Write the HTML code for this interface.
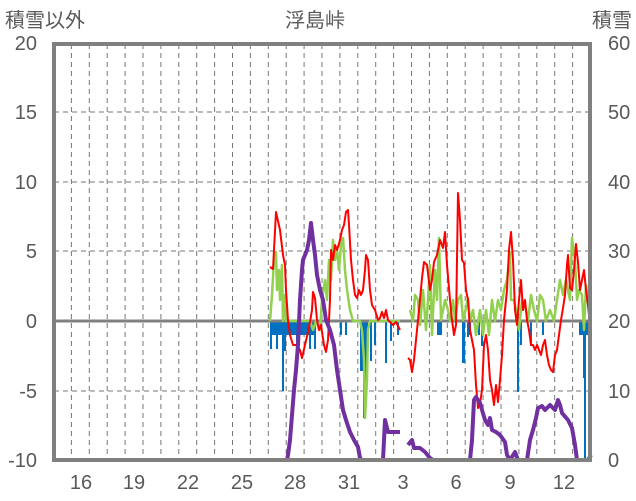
<!DOCTYPE html>
<html><head><meta charset="utf-8"><style>
html,body{margin:0;padding:0;background:#fff;}
svg{display:block;font-family:"Liberation Sans","Noto Sans CJK JP",sans-serif;}
</style></head><body>
<svg width="636" height="501" viewBox="0 0 636 501" xmlns="http://www.w3.org/2000/svg">
<rect width="636" height="501" fill="#fff"/>
<g stroke="#777" stroke-width="1" stroke-dasharray="5,4" fill="none">
<line x1="54" y1="112" x2="590" y2="112"/><line x1="54" y1="182" x2="590" y2="182"/><line x1="54" y1="251" x2="590" y2="251"/><line x1="54" y1="391" x2="590" y2="391"/>
<path d="M71.4 44V459M89.3 44V459M107.2 44V459M125.1 44V459M143 44V459M160.9 44V459M178.8 44V459M196.7 44V459M214.6 44V459M232.5 44V459M250.4 44V459M268.3 44V459M286.2 44V459M304.1 44V459M322 44V459M339.9 44V459M357.8 44V459M375.7 44V459M393.6 44V459M411.5 44V459M429.4 44V459M447.3 44V459M465.2 44V459M483.1 44V459M501 44V459M518.9 44V459M536.8 44V459M554.7 44V459M572.6 44V459"/>
</g>
<g fill="#0070c0">
<rect x="270" y="321" width="16" height="14"/><rect x="270" y="321" width="2" height="28"/><rect x="276" y="321" width="2" height="28"/><rect x="282" y="321" width="2" height="70"/><rect x="284" y="321" width="2" height="30"/><rect x="286" y="321" width="30" height="14"/><rect x="296" y="321" width="2" height="28"/><rect x="309" y="321" width="2" height="28"/><rect x="314" y="321" width="2" height="28"/><rect x="340" y="321" width="2" height="14"/><rect x="345" y="321" width="2" height="14"/>
<rect x="360" y="321" width="3" height="50"/><rect x="363" y="321" width="3" height="97"/><rect x="366" y="321" width="2" height="57"/><rect x="370" y="321" width="2" height="40"/><rect x="374" y="321" width="2" height="24"/><rect x="385" y="321" width="2" height="42"/><rect x="390" y="321" width="2" height="20"/><rect x="397" y="321" width="2" height="14"/>
<rect x="437" y="321" width="5" height="14"/><rect x="462" y="321" width="3" height="42"/><rect x="467" y="321" width="2" height="16"/><rect x="469" y="321" width="2" height="14"/><rect x="478" y="321" width="2" height="14"/><rect x="481" y="321" width="2" height="25"/><rect x="517" y="321" width="2" height="71"/><rect x="520" y="321" width="2" height="24"/><rect x="530" y="321" width="2" height="25"/><rect x="542" y="321" width="2" height="14"/>
<rect x="579" y="321" width="10" height="14"/><rect x="583" y="321" width="3" height="57"/><rect x="584" y="321" width="2" height="139"/>
</g>
<line x1="54" y1="321" x2="590" y2="321" stroke="#808080" stroke-width="3"/>
<g fill="none" stroke-linejoin="round">
<polyline stroke="#92d050" stroke-width="2.5" points="270,321 272,295 274,260 276,252 277,290 279,270 280,300 282,265 283,321 285,295 286,321 290,321 295,321 300,321 305,321 310,321 313,330 316,321 320,330 322,300 325,280 327,300 329,260 331,280 333,240 335,260 337,250 339,270 341,245 343,238 345,270 347,290 350,310 353,321 356,321 360,321 362,330 364,360 365,418 367,380 368,330 370,321 375,321 380,321 390,321 400,321"/>
<polyline stroke="#92d050" stroke-width="2.5" points="410,310 413,321 415,295 418,300 420,325 423,290 426,330 428,300 430,265 432,335 435,270 437,300 439,238 441,320 445,300 448,310 450,321 453,300 455,320 458,300 461,295 463,320 466,308 468,298 470,321 473,310 476,335 480,310 483,335 486,310 489,335 492,300 495,321 498,300 501,310 504,290 507,280 510,252 511,300 514,300 516,310 519,330 522,300 525,305 528,321 531,295 534,310 537,321 540,295 543,300 546,321 550,310 554,321 557,300 560,280 563,295 566,280 570,300 572,238 575,260 577,300 579,290 582,295 584,330 586,285 588,300 590,321"/>
<polyline stroke="#ff0000" stroke-width="2" points="270,267 273,269 276,212 280,230 283,255 285,265 286,290 288,320 290,335 293,345 296,345 300,350 302,358 305,345 308,332 310,322 312,310 313,292 315,298 317,320 319,330 321,325 324,345 326,352 328,340 330,300 331,250 333,260 335,245 337,250 340,240 342,230 344,225 346,212 348,210 349,225 351,260 353,280 355,295 357,298 359,290 361,295 363,290 365,270 366,255 368,260 370,290 372,305 375,310 378,320 380,318 382,312 384,318 386,310 388,320 390,322 393,325 396,322 400,330"/>
<polyline stroke="#ff0000" stroke-width="2" points="408,358 410,360 412,372 414,360 416,340 418,320 420,300 422,278 424,262 427,265 430,290 432,280 434,262 437,255 440,240 443,248 445,232 447,265 450,300 452,320 454,335 456,325 458,193 460,220 462,260 464,263 466,290 468,300 470,330 472,340 474,350 476,385 478,408 480,404 482,390 484,345 486,335 488,350 490,380 492,390 494,405 496,385 498,402 500,380 502,355 504,320 507,290 509,250 511,232 513,260 515,310 517,325 519,300 521,280 523,310 525,300 527,320 529,330 531,345 533,345 535,350 537,345 539,350 541,355 543,345 545,340 547,355 549,365 551,370 553,372 555,355 557,350 559,335 561,320 563,308 565,295 567,265 568,255 570,288 572,290 574,270 576,244 578,262 580,290 582,280 584,270 586,290 588,305 590,325"/>
<polyline stroke="#7030a0" stroke-width="4" points="256,460 287,460 288,455 290,440 292,415 294,390 296,370 298,345 300,300 302,270 303,260 305,255 307,250 309,240 311,223 313,240 315,255 317,275 320,290 323,300 326,320 330,330 334,345 337,370 340,390 343,410 346,420 350,432 354,440 358,447 360,458 362,460 383,460 385,420 388,432 393,432 400,432"/>
<polyline stroke="#7030a0" stroke-width="4" points="408,445 412,440 414,448 420,448 425,452 430,458 433,460 470,460 472,440 474,400 476,397 480,403 482,410 485,420 488,425 490,418 492,430 496,432 500,435 505,442 507,455 510,460 515,452 518,460 527,460 530,440 533,430 536,418 538,408 542,406 545,410 550,405 555,410 558,400 560,405 562,413 568,420 572,428 575,445 577,460 588,460 591,455"/>
</g>
<rect x="54" y="44" width="536" height="416" fill="none" stroke="#808080" stroke-width="4"/>
<g fill="#595959" font-size="20">
<text x="5" y="27">積雪以外</text>
<text x="315" y="27" text-anchor="middle">浮島峠</text>
<text x="632" y="27" text-anchor="end">積雪</text>
</g>
<g fill="#595959" font-size="20" text-anchor="end">
<text x="37" y="50">20</text><text x="37" y="119">15</text><text x="37" y="189">10</text><text x="37" y="258">5</text><text x="37" y="328">0</text><text x="37" y="398">-5</text><text x="37" y="467">-10</text>
</g>
<g fill="#595959" font-size="20">
<text x="608" y="50">60</text><text x="608" y="119">50</text><text x="608" y="189">40</text><text x="608" y="258">30</text><text x="608" y="328">20</text><text x="608" y="398">10</text><text x="608" y="467">0</text>
</g>
<g fill="#595959" font-size="20" text-anchor="middle">
<text x="81" y="489">16</text><text x="134" y="489">19</text><text x="188" y="489">22</text><text x="242" y="489">25</text><text x="295" y="489">28</text><text x="349" y="489">31</text><text x="403" y="489">3</text><text x="456" y="489">6</text><text x="510" y="489">9</text><text x="564" y="489">12</text>
</g>
</svg>
</body></html>
